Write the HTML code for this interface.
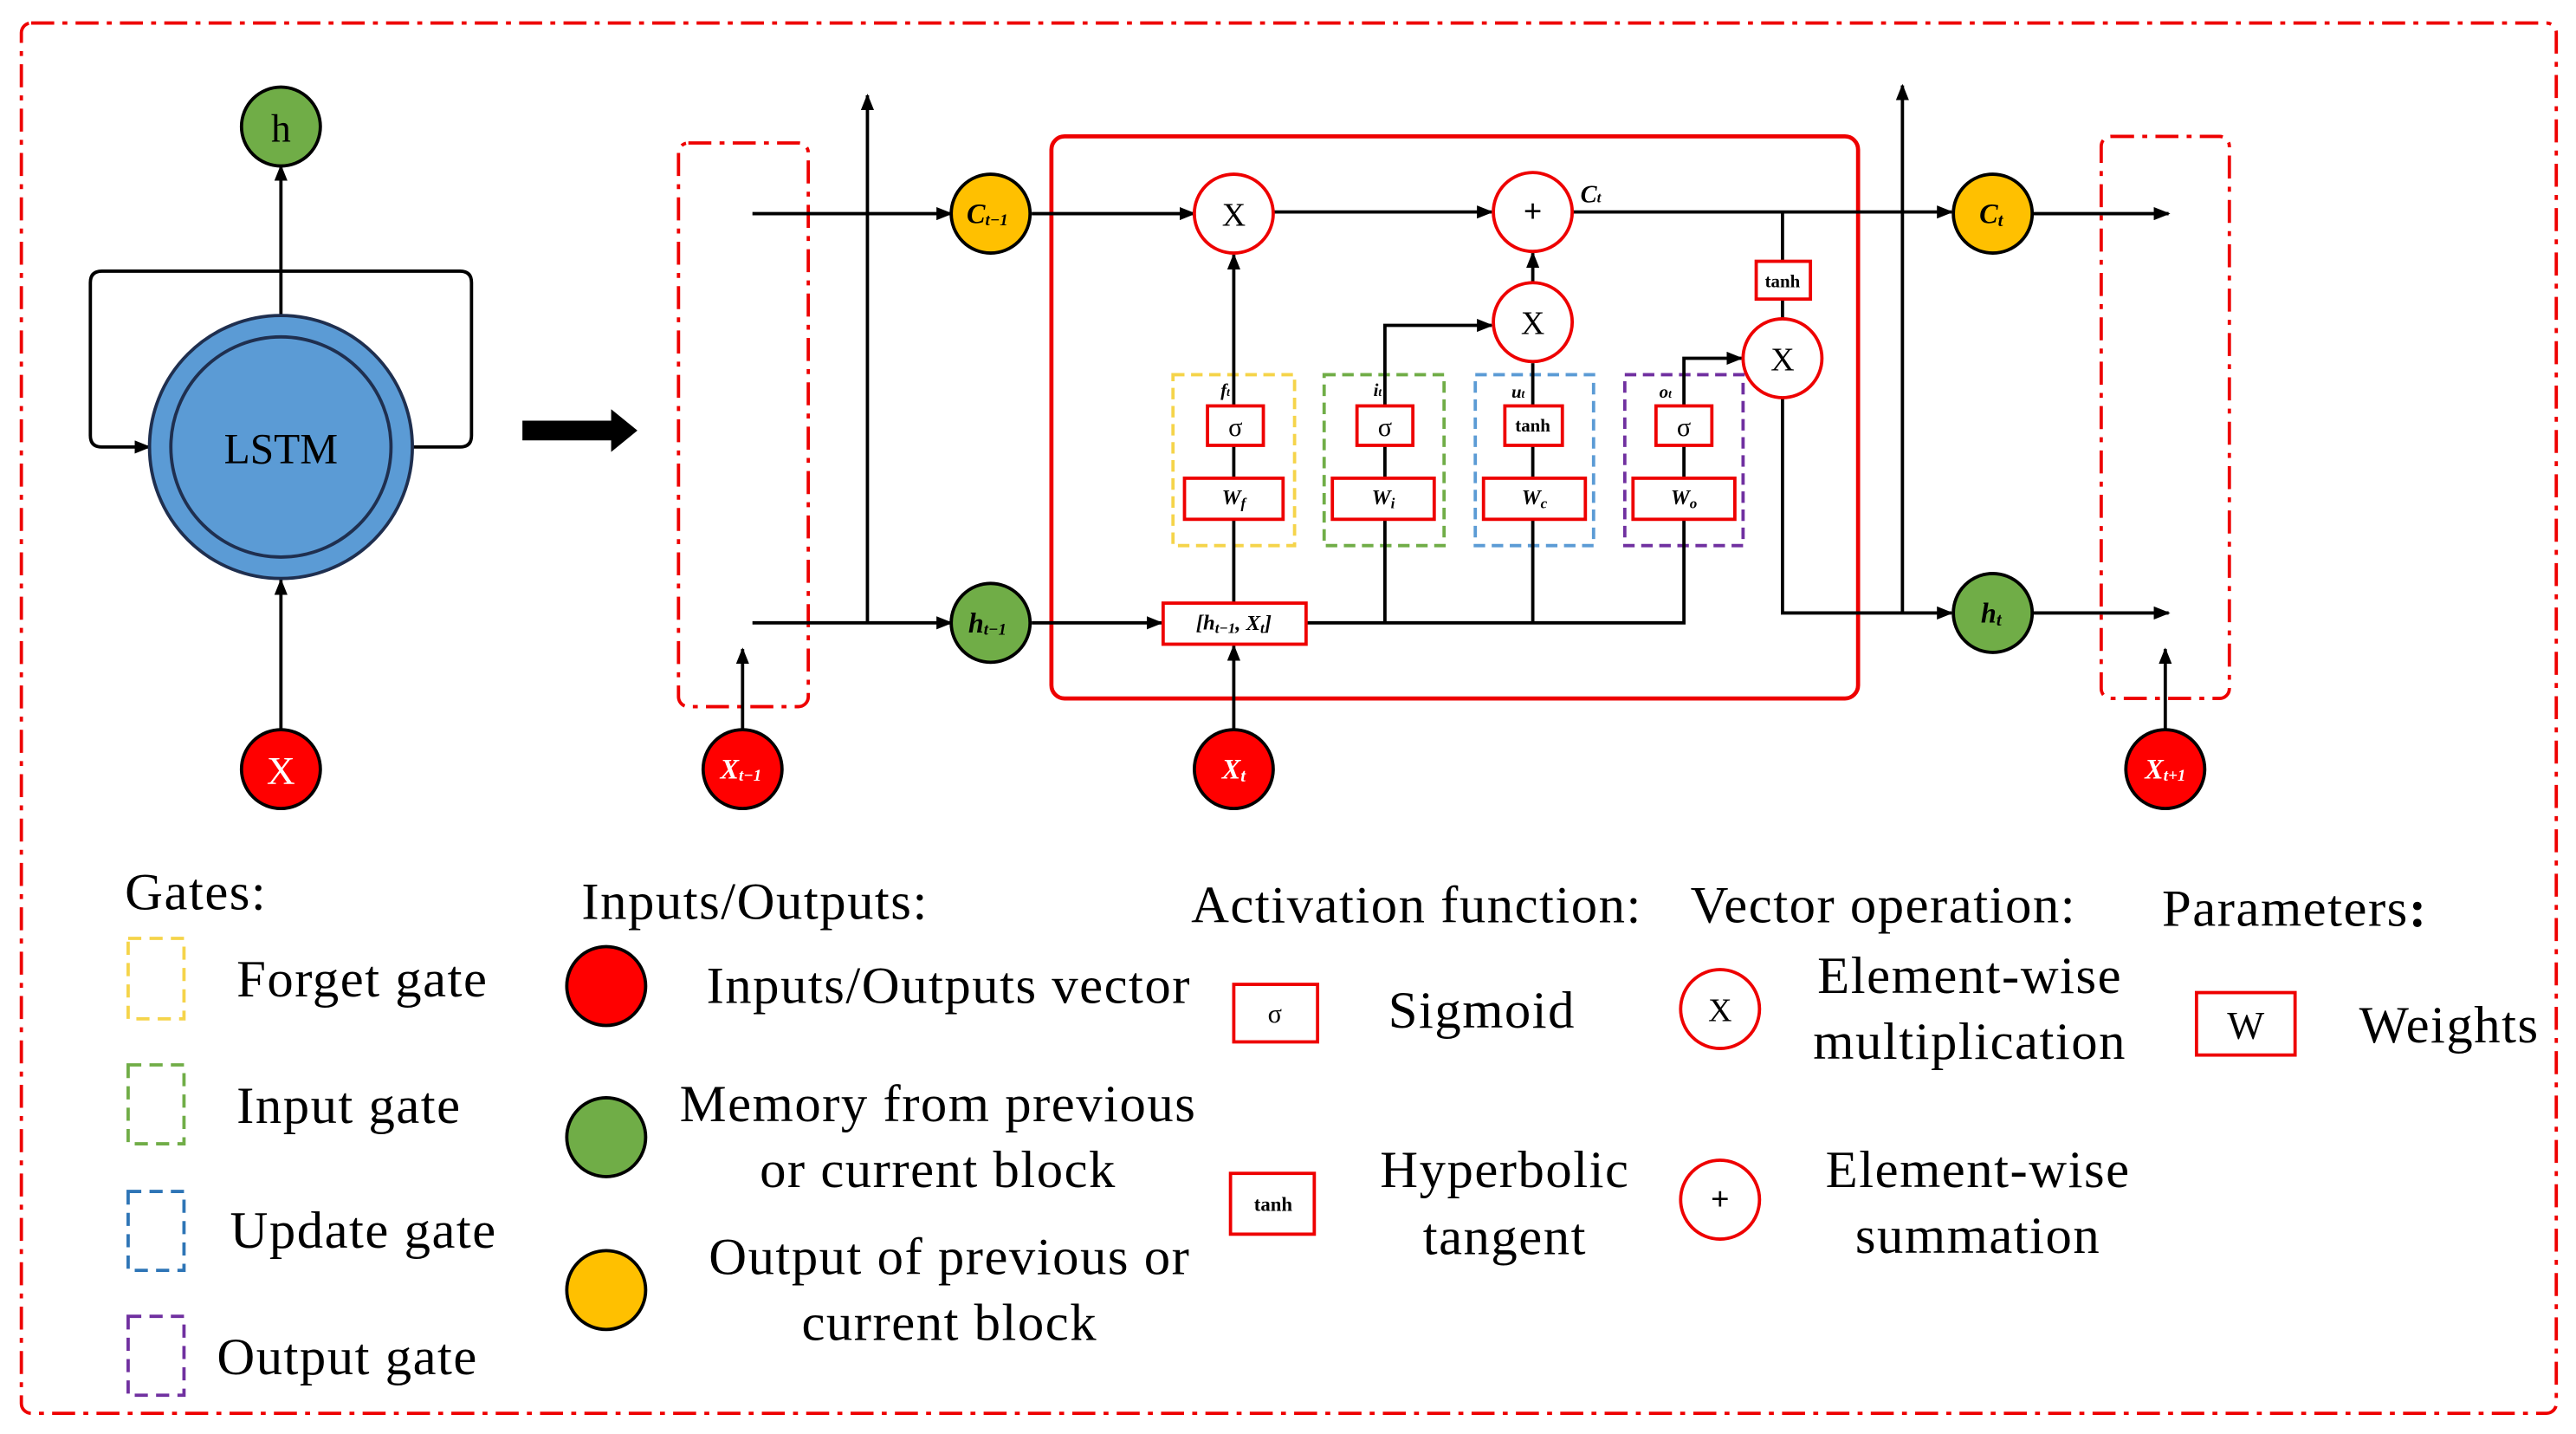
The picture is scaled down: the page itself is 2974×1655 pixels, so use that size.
<!DOCTYPE html>
<html><head><meta charset="utf-8"><style>
html,body{margin:0;padding:0;background:#fff;}
svg{display:block;}
text{font-family:"Liberation Serif",serif;}
.lg text{letter-spacing:0.8px;}
</style></head><body>
<svg width="2974" height="1655" viewBox="0 0 1568 872.6" preserveAspectRatio="none" xmlns="http://www.w3.org/2000/svg">
<defs>
<marker id="a" markerWidth="10" markerHeight="8" refX="9" refY="4" orient="auto" markerUnits="userSpaceOnUse"><path d="M0,0 L10,4 L0,8 z" fill="#000"/></marker>
</defs>
<rect x="0" y="0" width="1568" height="872.6" fill="#fff"/>
<rect x="13" y="14" width="1543" height="846" rx="6" fill="none" stroke="#e00" stroke-width="2" stroke-dasharray="14,5,3,5"/>

<g stroke="#000" stroke-width="2" fill="none">
<path d="M171,192 V101" marker-end="url(#a)"/>
<path d="M171,444 V353" marker-end="url(#a)"/>
<path d="M171,165 H62 Q55,165 55,172 V265 Q55,272 62,272 H91" marker-end="url(#a)"/>
<path d="M251,272 H280 Q287,272 287,265 V172 Q287,165 280,165 H171"/>
</g>
<circle cx="171" cy="272" r="80" fill="#5b9bd5" stroke="#1f2f4f" stroke-width="2"/>
<circle cx="171" cy="272" r="67" fill="#5b9bd5" stroke="#1f2f4f" stroke-width="2"/>
<text x="171" y="273" font-size="26" text-anchor="middle" dominant-baseline="central">LSTM</text>
<circle cx="171" cy="77" r="24" fill="#70ad47" stroke="#000" stroke-width="2"/>
<text x="171" y="78" font-size="24" text-anchor="middle" dominant-baseline="central">h</text>
<circle cx="171" cy="468" r="24" fill="#f00" stroke="#000" stroke-width="2"/>
<text x="171" y="469" font-size="24" fill="#fff" text-anchor="middle" dominant-baseline="central">X</text>
<path d="M318,256 H372 V249 L388,262 L372,275 V268 H318 z" fill="#000"/>

<rect x="413" y="87" width="79" height="343" rx="6" fill="none" stroke="#e00" stroke-width="2" stroke-dasharray="14,5,3,5"/>
<rect x="1279" y="83" width="78" height="342" rx="6" fill="none" stroke="#e00" stroke-width="2" stroke-dasharray="14,5,3,5"/>
<rect x="640" y="83" width="491" height="342" rx="8" fill="none" stroke="#e00" stroke-width="2.5"/>

<rect x="714" y="228" width="74" height="104" fill="none" stroke="#f5d44a" stroke-width="2" stroke-dasharray="7,4"/>
<rect x="806" y="228" width="73" height="104" fill="none" stroke="#70ad47" stroke-width="2" stroke-dasharray="7,4"/>
<rect x="898" y="228" width="72" height="104" fill="none" stroke="#5b9bd5" stroke-width="2" stroke-dasharray="7,4"/>
<rect x="989" y="228" width="72" height="104" fill="none" stroke="#7030a0" stroke-width="2" stroke-dasharray="7,4"/>

<g stroke="#000" stroke-width="2" fill="none">
<path d="M528,379 V58" marker-end="url(#a)"/>
<path d="M1158,373 V52" marker-end="url(#a)"/>
<path d="M458,130 H579" marker-end="url(#a)"/>
<path d="M458,379 H579" marker-end="url(#a)"/>
<path d="M628,130 H727" marker-end="url(#a)"/>
<path d="M628,379 H707" marker-end="url(#a)"/>
<path d="M795,379 H1025 V316"/>
<path d="M452,444 V395" marker-end="url(#a)"/>
<path d="M751,444 V393" marker-end="url(#a)"/>
<path d="M1318,444 V395" marker-end="url(#a)"/>
<path d="M751,367 V155" marker-end="url(#a)"/>
<path d="M843,379 V198 H908" marker-end="url(#a)"/>
<path d="M933,379 V221"/>
<path d="M933,172 V154" marker-end="url(#a)"/>
<path d="M1025,291 V218 H1060" marker-end="url(#a)"/>
<path d="M775,129 H908" marker-end="url(#a)"/>
<path d="M957,129 H1188" marker-end="url(#a)"/>
<path d="M1085,130 V194"/>
<path d="M1085,242 V373 H1188" marker-end="url(#a)"/>
<path d="M1237,130 H1320" marker-end="url(#a)"/>
<path d="M1237,373 H1320" marker-end="url(#a)"/>
</g>

<g fill="#fff" stroke="#e00" stroke-width="2">
<rect x="708" y="367" width="87" height="25"/>
<rect x="735" y="247" width="34" height="24"/>
<rect x="826" y="247" width="34" height="24"/>
<rect x="916" y="247" width="35" height="24"/>
<rect x="1008" y="247" width="34" height="24"/>
<rect x="721" y="291" width="60" height="25"/>
<rect x="811" y="291" width="62" height="25"/>
<rect x="903" y="291" width="62" height="25"/>
<rect x="994" y="291" width="62" height="25"/>
<rect x="1069" y="159" width="33" height="23"/>
</g>
<g font-size="16" text-anchor="middle" dominant-baseline="central">
<text x="752" y="260">σ</text><text x="843" y="260">σ</text><text x="1025" y="260">σ</text>
</g>
<g font-size="11" font-weight="bold" text-anchor="middle" dominant-baseline="central">
<text x="933" y="259">tanh</text><text x="1085" y="171">tanh</text>
</g>
<g font-size="13" font-weight="bold" font-style="italic" text-anchor="middle" dominant-baseline="central">
<text x="751" y="379">[h<tspan font-size="9" dy="3">t−1</tspan><tspan dy="-3">, X</tspan><tspan font-size="9" dy="3">t</tspan><tspan dy="-3">]</tspan></text>
<text x="751" y="303">W<tspan font-size="9" dy="3">f</tspan></text>
<text x="842" y="303">W<tspan font-size="9" dy="3">i</tspan></text>
<text x="934" y="303">W<tspan font-size="9" dy="3">c</tspan></text>
<text x="1025" y="303">W<tspan font-size="9" dy="3">o</tspan></text>
</g>
<g font-size="11" font-style="italic" font-weight="bold">
<text x="743" y="241">f<tspan font-size="7">t</tspan></text>
<text x="836" y="241">i<tspan font-size="7">t</tspan></text>
<text x="920" y="242">u<tspan font-size="7">t</tspan></text>
<text x="1010" y="242">o<tspan font-size="7">t</tspan></text>
<text x="962" y="123" font-size="15">C<tspan font-size="9">t</tspan></text>
</g>

<circle cx="603" cy="130" r="24" fill="#ffc000" stroke="#000" stroke-width="2"/>
<circle cx="1213" cy="130" r="24" fill="#ffc000" stroke="#000" stroke-width="2"/>
<circle cx="603" cy="379" r="24" fill="#70ad47" stroke="#000" stroke-width="2"/>
<circle cx="1213" cy="373" r="24" fill="#70ad47" stroke="#000" stroke-width="2"/>
<circle cx="452" cy="468" r="24" fill="#f00" stroke="#000" stroke-width="2"/>
<circle cx="751" cy="468" r="24" fill="#f00" stroke="#000" stroke-width="2"/>
<circle cx="1318" cy="468" r="24" fill="#f00" stroke="#000" stroke-width="2"/>
<g fill="#fff" stroke="#e00" stroke-width="2">
<circle cx="751" cy="130" r="24"/><circle cx="933" cy="129" r="24"/>
<circle cx="933" cy="196" r="24"/><circle cx="1085" cy="218" r="24"/>
</g>
<g font-size="20" text-anchor="middle" dominant-baseline="central">
<text x="751" y="131">X</text><text x="933" y="197">X</text><text x="1085" y="219">X</text>
<text x="933" y="129" font-weight="bold">+</text>
</g>
<g font-size="17" font-style="italic" font-weight="bold" text-anchor="middle" dominant-baseline="central">
<text x="601" y="130">C<tspan font-size="10" dy="4">t−1</tspan></text>
<text x="1212" y="130">C<tspan font-size="11" dy="4">t</tspan></text>
<text x="601" y="379">h<tspan font-size="10" dy="4">t−1</tspan></text>
<text x="1212" y="373">h<tspan font-size="11" dy="4">t</tspan></text>
<text x="451" y="468" fill="#fff">X<tspan font-size="10" dy="4">t−1</tspan></text>
<text x="751" y="468" fill="#fff">X<tspan font-size="11" dy="4">t</tspan></text>
<text x="1318" y="468" fill="#fff">X<tspan font-size="10" dy="4">t+1</tspan></text>
</g>

<g class="lg" font-size="32" dominant-baseline="central">
<text x="76" y="543">Gates:</text>
<text x="144" y="596">Forget gate</text>
<text x="144" y="673">Input gate</text>
<text x="140" y="749">Update gate</text>
<text x="132" y="826">Output gate</text>
<text x="354" y="549">Inputs/Outputs:</text>
<text x="430" y="600">Inputs/Outputs vector</text>
<text x="725" y="551">Activation function:</text>
<text x="845" y="615">Sigmoid</text>
<text x="1029" y="551">Vector operation:</text>
<text x="1316" y="553">Parameters<tspan font-weight="bold">:</tspan></text>
<text x="1436" y="624">Weights</text>
</g>
<g class="lg" font-size="32" dominant-baseline="central" text-anchor="middle">
<text x="571" y="672">Memory from previous</text>
<text x="571" y="712">or current block</text>
<text x="578" y="765">Output of previous or</text>
<text x="578" y="805">current block</text>
<text x="916" y="712">Hyperbolic</text>
<text x="916" y="753">tangent</text>
<text x="1199" y="594">Element-wise</text>
<text x="1199" y="634">multiplication</text>
<text x="1204" y="712">Element-wise</text>
<text x="1204" y="752">summation</text>
</g>
<rect x="78" y="571" width="34" height="49" fill="none" stroke="#f5d44a" stroke-width="2" stroke-dasharray="8,5"/>
<rect x="78" y="648" width="34" height="48" fill="none" stroke="#70ad47" stroke-width="2" stroke-dasharray="8,5"/>
<rect x="78" y="725" width="34" height="48" fill="none" stroke="#2e75b6" stroke-width="2" stroke-dasharray="8,5"/>
<rect x="78" y="801" width="34" height="48" fill="none" stroke="#7030a0" stroke-width="2" stroke-dasharray="8,5"/>
<circle cx="369" cy="600" r="24" fill="#f00" stroke="#000" stroke-width="2"/>
<circle cx="369" cy="692" r="24" fill="#70ad47" stroke="#000" stroke-width="2"/>
<circle cx="369" cy="785" r="24" fill="#ffc000" stroke="#000" stroke-width="2"/>
<rect x="751" y="599" width="51" height="35" fill="#fff" stroke="#e00" stroke-width="2"/>
<text x="776" y="617" font-size="16" text-anchor="middle" dominant-baseline="central">σ</text>
<rect x="749" y="714" width="51" height="37" fill="#fff" stroke="#e00" stroke-width="2"/>
<text x="775" y="733" font-size="12" font-weight="bold" text-anchor="middle" dominant-baseline="central">tanh</text>
<circle cx="1047" cy="614" r="24" fill="#fff" stroke="#e00" stroke-width="2"/>
<text x="1047" y="615" font-size="20" text-anchor="middle" dominant-baseline="central">X</text>
<circle cx="1047" cy="730" r="24" fill="#fff" stroke="#e00" stroke-width="2"/>
<text x="1047" y="730" font-size="20" font-weight="bold" text-anchor="middle" dominant-baseline="central">+</text>
<rect x="1337" y="604" width="60" height="38" fill="#fff" stroke="#e00" stroke-width="2"/>
<text x="1367" y="624" font-size="24" text-anchor="middle" dominant-baseline="central">W</text>
</svg>
</body></html>
